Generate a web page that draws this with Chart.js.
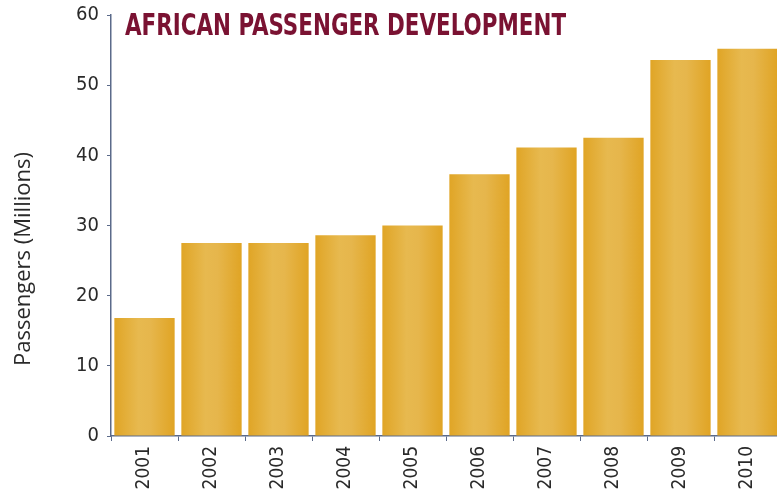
<!DOCTYPE html>
<html>
<head>
<meta charset="utf-8">
<script src="https://cdn.jsdelivr.net/npm/chart.js@4.4.0/dist/chart.umd.min.js"></script>
<style>
  html, body { margin: 0; padding: 0; background: #ffffff; overflow: hidden; }
  #wrap { position: absolute; left: 0; top: -5px; width: 781px; height: 496px; }
</style>
</head>
<body>
<div id="wrap"><canvas id="c"></canvas></div>
<script>
const categories = ['2001','2002','2003','2004','2005','2006','2007','2008','2009','2010'];
const passengers = [16.8, 27.5, 27.5, 28.6, 30.0, 37.3, 41.1, 42.5, 53.6, 55.2];
const yTicks = [0, 10, 20, 30, 40, 50, 60];
const chartTitle = 'AFRICAN PASSENGER DEVELOPMENT';
const yAxisTitle = 'Passengers (Millions)';

const AXIS = '#5b6a8a';
const LABEL = '#2a2a2a';
const NARROW = '"Liberation Sans Narrow", "DejaVu Sans Condensed", "Roboto Condensed", sans-serif';
const SHIFT = 5;

function barGradient(ctx) {
  const chart = ctx.chart;
  const xs = chart.scales.x;
  if (!chart.chartArea || !xs || ctx.dataIndex === undefined) return '#e3b040';
  const cx = xs.getPixelForValue(ctx.dataIndex);
  const w = (xs.width / categories.length) * 0.9;
  const g = chart.ctx.createLinearGradient(cx - w / 2, 0, cx + w / 2, 0);
  g.addColorStop(0, '#e0a526');
  g.addColorStop(0.4, '#e7b94f');
  g.addColorStop(0.6, '#e6b64c');
  g.addColorStop(1, '#e0a424');
  return g;
}

const textPlugin = {
  id: 'innerTexts',
  afterDraw(chart) {
    const c = chart.ctx;
    const area = chart.chartArea;
    c.save();
    c.font = 'bold 30px ' + NARROW;
    c.fillStyle = '#7a1232';
    c.textBaseline = 'alphabetic';
    c.textAlign = 'left';
    c.fillText(chartTitle, area.left + 14, 35 + SHIFT, 441);
    c.restore();

    c.save();
    c.translate(30, 259 + SHIFT);
    c.rotate(-Math.PI / 2);
    c.font = '22px "Open Sans", "Noto Sans", sans-serif';
    c.fillStyle = LABEL;
    c.textAlign = 'center';
    c.textBaseline = 'alphabetic';
    c.fillText(yAxisTitle, 0, 0, 224);
    c.restore();
  }
};

new Chart(document.getElementById('c'), {
  type: 'bar',
  data: {
    labels: categories,
    datasets: [{
      data: passengers,
      backgroundColor: barGradient,
      borderWidth: 0,
      barPercentage: 0.9,
      categoryPercentage: 1.0
    }]
  },
  options: {
    responsive: true,
    maintainAspectRatio: false,
    animation: false,
    layout: { padding: { top: -4, right: 0, bottom: 0, left: 0 } },
    plugins: {
      legend: { display: false },
      tooltip: { enabled: false },
      title: { display: false }
    },
    scales: {
      x: {
        grid: { display: true, drawOnChartArea: false, drawTicks: true, tickLength: 5, color: AXIS, offset: true },
        border: { display: true, color: AXIS, width: 1.5 },
        ticks: {
          color: LABEL,
          font: { family: NARROW, size: 19 },
          minRotation: 90, maxRotation: 90,
          padding: 5,
          autoSkip: false
        },
        afterFit(scale) { scale.height = 55; }
      },
      y: {
        min: 0, max: 60,
        afterBuildTicks(scale) { scale.ticks = yTicks.map(v => ({ value: v })); },
        grid: { display: true, drawOnChartArea: false, drawTicks: true, tickLength: 4, color: AXIS },
        border: { display: true, color: AXIS, width: 1.5 },
        ticks: {
          color: LABEL,
          font: { family: NARROW, size: 20 },
          padding: 8
        },
        title: { display: false },
        afterFit(scale) { scale.width = 111; }
      }
    }
  },
  plugins: [textPlugin]
});
</script>
</body>
</html>
